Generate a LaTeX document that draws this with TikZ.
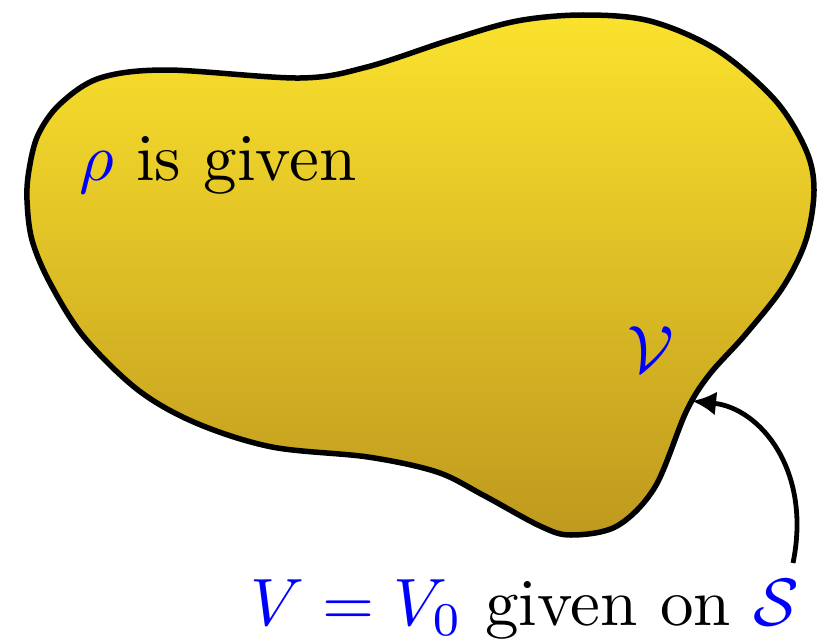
\documentclass[tikz,border=0pt]{standalone}
\usetikzlibrary{arrows.meta}
\definecolor{blobtop}{RGB}{251,226,45}
\definecolor{blobbot}{RGB}{191,153,30}
\tikzset{
  big/.style={font=\normalsize, inner sep=0pt, scale=6.7, transform shape},
  blob/.style={line width=5.5pt, top color=blobtop, bottom color=blobbot, draw=black},
  pointer/.style={line width=4.8pt, -{Latex[length=24pt,width=24pt]}}
}
\begin{document}
\begin{tikzpicture}[x=1pt,y=-1pt]
\useasboundingbox (0,0) rectangle (818,642);
\draw[blob] plot[smooth cycle, tension=0.55] coordinates {
 (100,78) (167,70) (300,78) (367,67) (450,40) (517,21) (583,15) (650,21)
 (717,50) (775,100) (806,150) (814,190) (806,240) (783,287) (745,335)
 (709,375) (686,412) (655,487) (617,526) (571,535) (540,526) (483,495)
 (437,472) (368,457) (272,447) (196,423) (138,390) (84,337) (50,283)
 (32,240) (27,200) (29,170) (38,135) (60,104)};
\node[big, anchor=base west] (rho) at (78,180) {$\color{blue}\rho$ is given};
\node[big, anchor=base] (vol) at (651,372) {$\color{blue}\mathcal{V}$};
\node[big, anchor=base west] (bc) at (249,625) {$\color{blue}V=V_0$ given on $\color{blue}\mathcal{S}$};
\coordinate (start) at (793,563);
\coordinate (tip) at (692,401);
\draw[pointer] (start) .. controls (812,470) and (760,408) .. (tip);
\end{tikzpicture}
\end{document}
